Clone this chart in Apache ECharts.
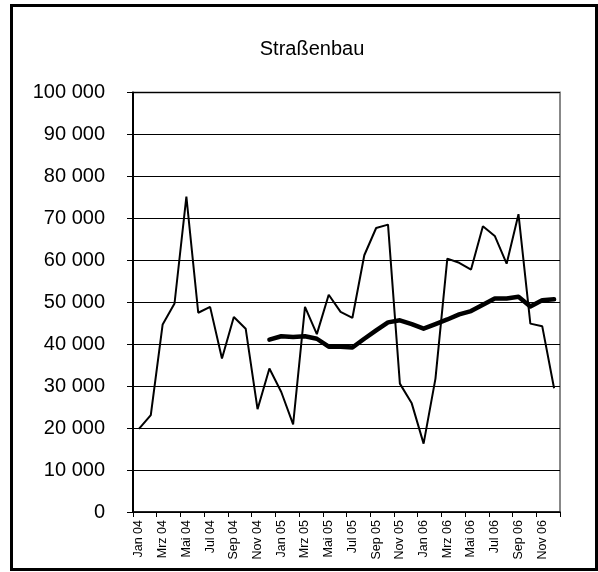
<!DOCTYPE html>
<html>
<head>
<meta charset="utf-8">
<script src="https://cdn.jsdelivr.net/npm/echarts@6/dist/echarts.min.js"></script>
<style>
  html, body { margin: 0; padding: 0; background: #fff; }
  #chart { width: 598px; height: 572px; }
</style>
</head>
<body>
<div id="chart"></div>
<script>
// Monthly values Jan 04 – Dec 06 (German month abbreviations)
const months = [
  'Jan 04', 'Feb 04', 'Mrz 04', 'Apr 04', 'Mai 04', 'Jun 04', 'Jul 04', 'Aug 04', 'Sep 04', 'Okt 04', 'Nov 04', 'Dez 04',
  'Jan 05', 'Feb 05', 'Mrz 05', 'Apr 05', 'Mai 05', 'Jun 05', 'Jul 05', 'Aug 05', 'Sep 05', 'Okt 05', 'Nov 05', 'Dez 05',
  'Jan 06', 'Feb 06', 'Mrz 06', 'Apr 06', 'Mai 06', 'Jun 06', 'Jul 06', 'Aug 06', 'Sep 06', 'Okt 06', 'Nov 06', 'Dez 06'
]

// thin line: monthly value
const monthly = [
  19800, 23100, 44700, 49700, 75200, 47500, 48900, 36600, 46500, 43700, 24500, 34200,
  28600, 20900, 48900, 42400, 51800, 47700, 46300, 61200, 67700, 68500, 30600, 25900,
  16300, 31800, 60400, 59400, 57800, 68100, 65800, 59200, 71000, 44900, 44300, 29500
]

// thick line: 12-month moving average, starts Dec 04
const average = [
  null, null, null, null, null, null, null, null, null, null, null, 41100,
  41900, 41700, 41900, 41300, 39400, 39400, 39200, 41300, 43300, 45200, 45700, 44800,
  43700, 44800, 45900, 47100, 47900, 49400, 50900, 50900, 51300, 49000, 50500, 50700
]

const yMin = 0
const yMax = 100000
const yStep = 10000

const fmt = (v) => String(v).replace(/\B(?=(\d{3})+(?!\d))/g, ' ')

const chart = echarts.init(document.getElementById('chart'), null, { renderer: 'canvas' })

chart.setOption({
  animation: false,
  textStyle: { fontFamily: '"Liberation Sans", Arial, sans-serif', color: '#000' },
  title: {
    text: 'Straßenbau',
    left: 307,
    top: 34,
    textAlign: 'center',
    textStyle: { fontSize: 20, fontWeight: 'normal', color: '#000', fontFamily: '"Liberation Sans", Arial, sans-serif' }
  },
  // outer frame
  graphic: [{
    type: 'rect',
    shape: { x: 11.5, y: 5.5, width: 585, height: 564 },
    style: { fill: null, stroke: '#000', lineWidth: 3 },
    silent: true
  }],
  grid: {
    left: 133, top: 92.5, right: 38, bottom: 60,
    show: true, borderColor: '#888', borderWidth: 2, backgroundColor: 'transparent'
  },
  xAxis: {
    type: 'category',
    data: months,
    boundaryGap: true,
    axisLine: { show: true, lineStyle: { color: '#000', width: 1.5 } },
    axisTick: { show: true, interval: 1, length: 5, alignWithLabel: false, lineStyle: { color: '#000' } },
    axisLabel: {
      interval: 1, rotate: 90, margin: 8,
      fontSize: 12.5, color: '#000', fontFamily: '"Liberation Sans", Arial, sans-serif'
    },
    splitLine: { show: false }
  },
  yAxis: {
    type: 'value',
    min: yMin, max: yMax, interval: yStep,
    axisLine: { show: true, lineStyle: { color: '#000', width: 2 } },
    axisTick: { show: true, length: 6, lineStyle: { color: '#000' } },
    axisLabel: {
      margin: 28, fontSize: 20, color: '#000', formatter: fmt,
      fontFamily: '"Liberation Sans", Arial, sans-serif'
    },
    splitLine: { show: true, lineStyle: { color: '#000', width: 1 } }
  },
  series: [
    {
      name: 'Monat',
      type: 'line',
      data: monthly,
      symbol: 'none',
      lineStyle: { color: '#000', width: 2 },
      z: 3
    },
    {
      name: 'Gleitender Durchschnitt',
      type: 'line',
      data: average,
      symbol: 'none',
      connectNulls: false,
      lineStyle: { color: '#000', width: 4.5, join: 'round', cap: 'round' },
      z: 4
    }
  ]
})
</script>
</body>
</html>
